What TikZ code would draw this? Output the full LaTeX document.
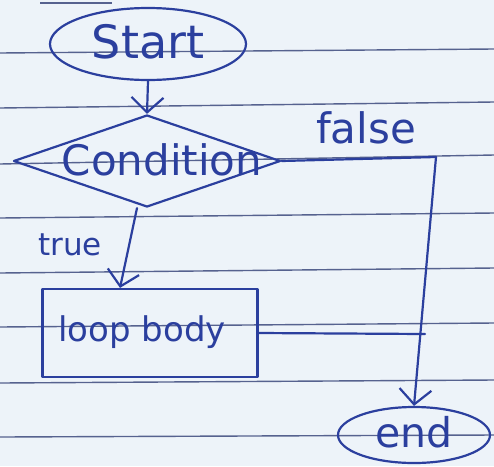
\documentclass[tikz,border=0pt]{standalone}
\usepackage{fontspec}
\setmainfont{DejaVu Sans}
\usetikzlibrary{shapes.geometric,arrows.meta}
\definecolor{paper}{HTML}{EDF3F9}
\definecolor{rule}{HTML}{56628F}
\definecolor{ink}{HTML}{2B3F9E}
\tikzset{
  ruling/.style={draw=rule, line width=1.4pt},
  pen/.style={draw=ink, line width=2.2pt, line cap=round, line join=round},
  inktext/.style={text=ink, inner sep=0pt},
  flow/.style={pen, -{Straight Barb[length=15pt, width=32pt, line width=2.2pt]}},
}
\begin{document}
\begin{tikzpicture}[x=1pt, y=-1pt]
  % sheet and its ruled lines
  \fill[paper] (0,0) rectangle (494,466);
  \useasboundingbox (0,0) rectangle (494,466);
  \draw[ruling] (40,3) -- (112,3);
  \foreach \l/\r in {53/49, 108/102, 164/155, 218/213, 273/268, 327/323, 383/380, 437/435}
    \draw[ruling] (0,\l) -- (494,\r);

  % flowchart shapes
  \node[pen, ellipse, inner sep=0pt, minimum width=196pt, minimum height=72pt] (start) at (148,44) {};
  \node[inktext, font=\fontsize{46}{48}\selectfont] (starttext) at (148,42) {Start};

  \node[pen, diamond, inner sep=0pt, minimum width=267pt, minimum height=92pt] (cond) at (147,161) {};
  \node[inktext, font=\fontsize{42}{44}\selectfont] (condtext) at (162,160) {Condition};

  \node[pen, rectangle, inner sep=0pt, minimum width=215pt, minimum height=88pt] (loop) at (150,333) {};
  \node[inktext, font=\fontsize{34}{36}\selectfont] (looptext) at (142,332) {loop body};

  \node[pen, ellipse, inner sep=0pt, minimum width=152pt, minimum height=56pt] (finish) at (414,435) {};
  \node[inktext, font=\fontsize{41}{43}\selectfont] (finishtext) at (414,432) {end};

  % connectors
  \coordinate (fcorner) at (436,157);
  \coordinate (join) at (425,334);
  \draw[flow] (start.south) -- (cond.north);
  \draw[flow] ([xshift=-10pt]cond.south) -- ([xshift=-30pt]loop.north);
  \draw[pen] (cond.east) -- (fcorner);
  \draw[flow] (fcorner) -- (finish.north);
  \draw[pen] (loop.east) -- (join);

  % branch labels
  \node[inktext, font=\fontsize{31}{33}\selectfont] (truelabel) at (70,245) {true};
  \node[inktext, font=\fontsize{42}{44}\selectfont] (falselabel) at (366,128) {false};
\end{tikzpicture}
\end{document}
